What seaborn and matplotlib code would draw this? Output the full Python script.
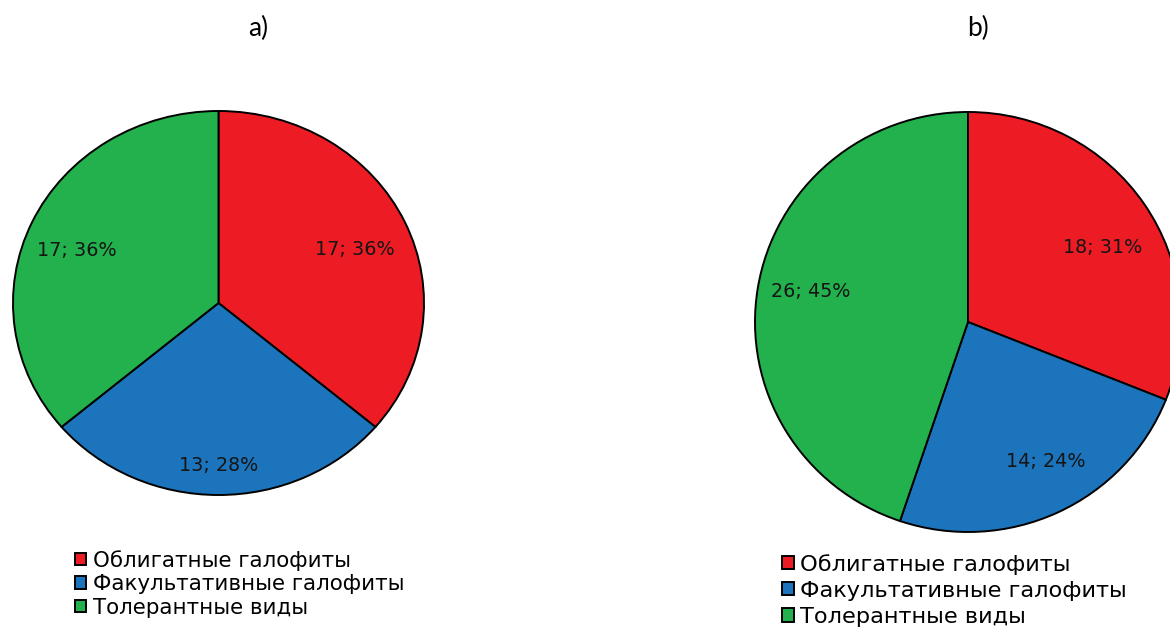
import numpy as np
import matplotlib
matplotlib.use("Agg")
import matplotlib.pyplot as plt
import seaborn as sns

categories = ["Облигатные галофиты", "Факультативные галофиты", "Толерантные виды"]
counts_a = [17, 13, 17]
counts_b = [18, 14, 26]
panel_titles = ["a)", "b)"]

sns.set_theme(style="white")
plt.rcParams["font.family"] = ["DejaVu Sans"]
plt.rcParams["text.color"] = "black"

colors = ["#ED1C24", "#1C75BC", "#22B14C"]

W, H = 1170, 628
fig = plt.figure(figsize=(W / 100, H / 100), dpi=100)


def px_axes(left, top, right, bottom):
    return fig.add_axes([left / W, 1 - bottom / H, (right - left) / W, (bottom - top) / H])


def draw_pie(ax, counts, label_r, label_dtheta, fs):
    wedges, _ = ax.pie(counts, colors=colors, startangle=90, counterclock=False,
                       wedgeprops=dict(edgecolor="black", linewidth=1.4))
    ax.set_aspect("auto")
    ax.set_xlim(-1, 1)
    ax.set_ylim(-1, 1)
    total = sum(counts)
    for w, v, r, dt in zip(wedges, counts, label_r, label_dtheta):
        th = np.deg2rad((w.theta1 + w.theta2) / 2 + dt)
        ax.text(r * np.cos(th), r * np.sin(th), f"{v}; {round(100 * v / total)}%",
                ha="center", va="center", fontsize=fs, color="#151515")
    return wedges


ax_a = px_axes(13, 111, 424, 495)
wedges_a = draw_pie(ax_a, counts_a, [0.72, 0.845, 0.742], [-2.3, 0, 3.1], 13.8)

ax_b = px_axes(755, 112, 1181, 532)
wedges_b = draw_pie(ax_b, counts_b, [0.727, 0.76, 0.752], [-4.8, 3.9, -2.0], 13.8)

for title, xc in zip(panel_titles, [258, 978]):
    fig.text(xc / W, 1 - 28 / H, title, ha="center", va="center",
             fontsize=19, family=["Lato", "DejaVu Sans"])

leg_kw = dict(frameon=False, loc="upper left", borderpad=0, borderaxespad=0,
              handlelength=0.52, handleheight=0.52, handletextpad=0.3)
fig.legend(wedges_a, categories, bbox_to_anchor=(75 / W, 1 - 550 / H),
           fontsize=15.4, labelspacing=0.16, **leg_kw)
fig.legend(wedges_b, categories, bbox_to_anchor=(782 / W, 1 - 554 / H),
           fontsize=16.2, labelspacing=0.27, **leg_kw)

fig.savefig("out.png", dpi=100)
